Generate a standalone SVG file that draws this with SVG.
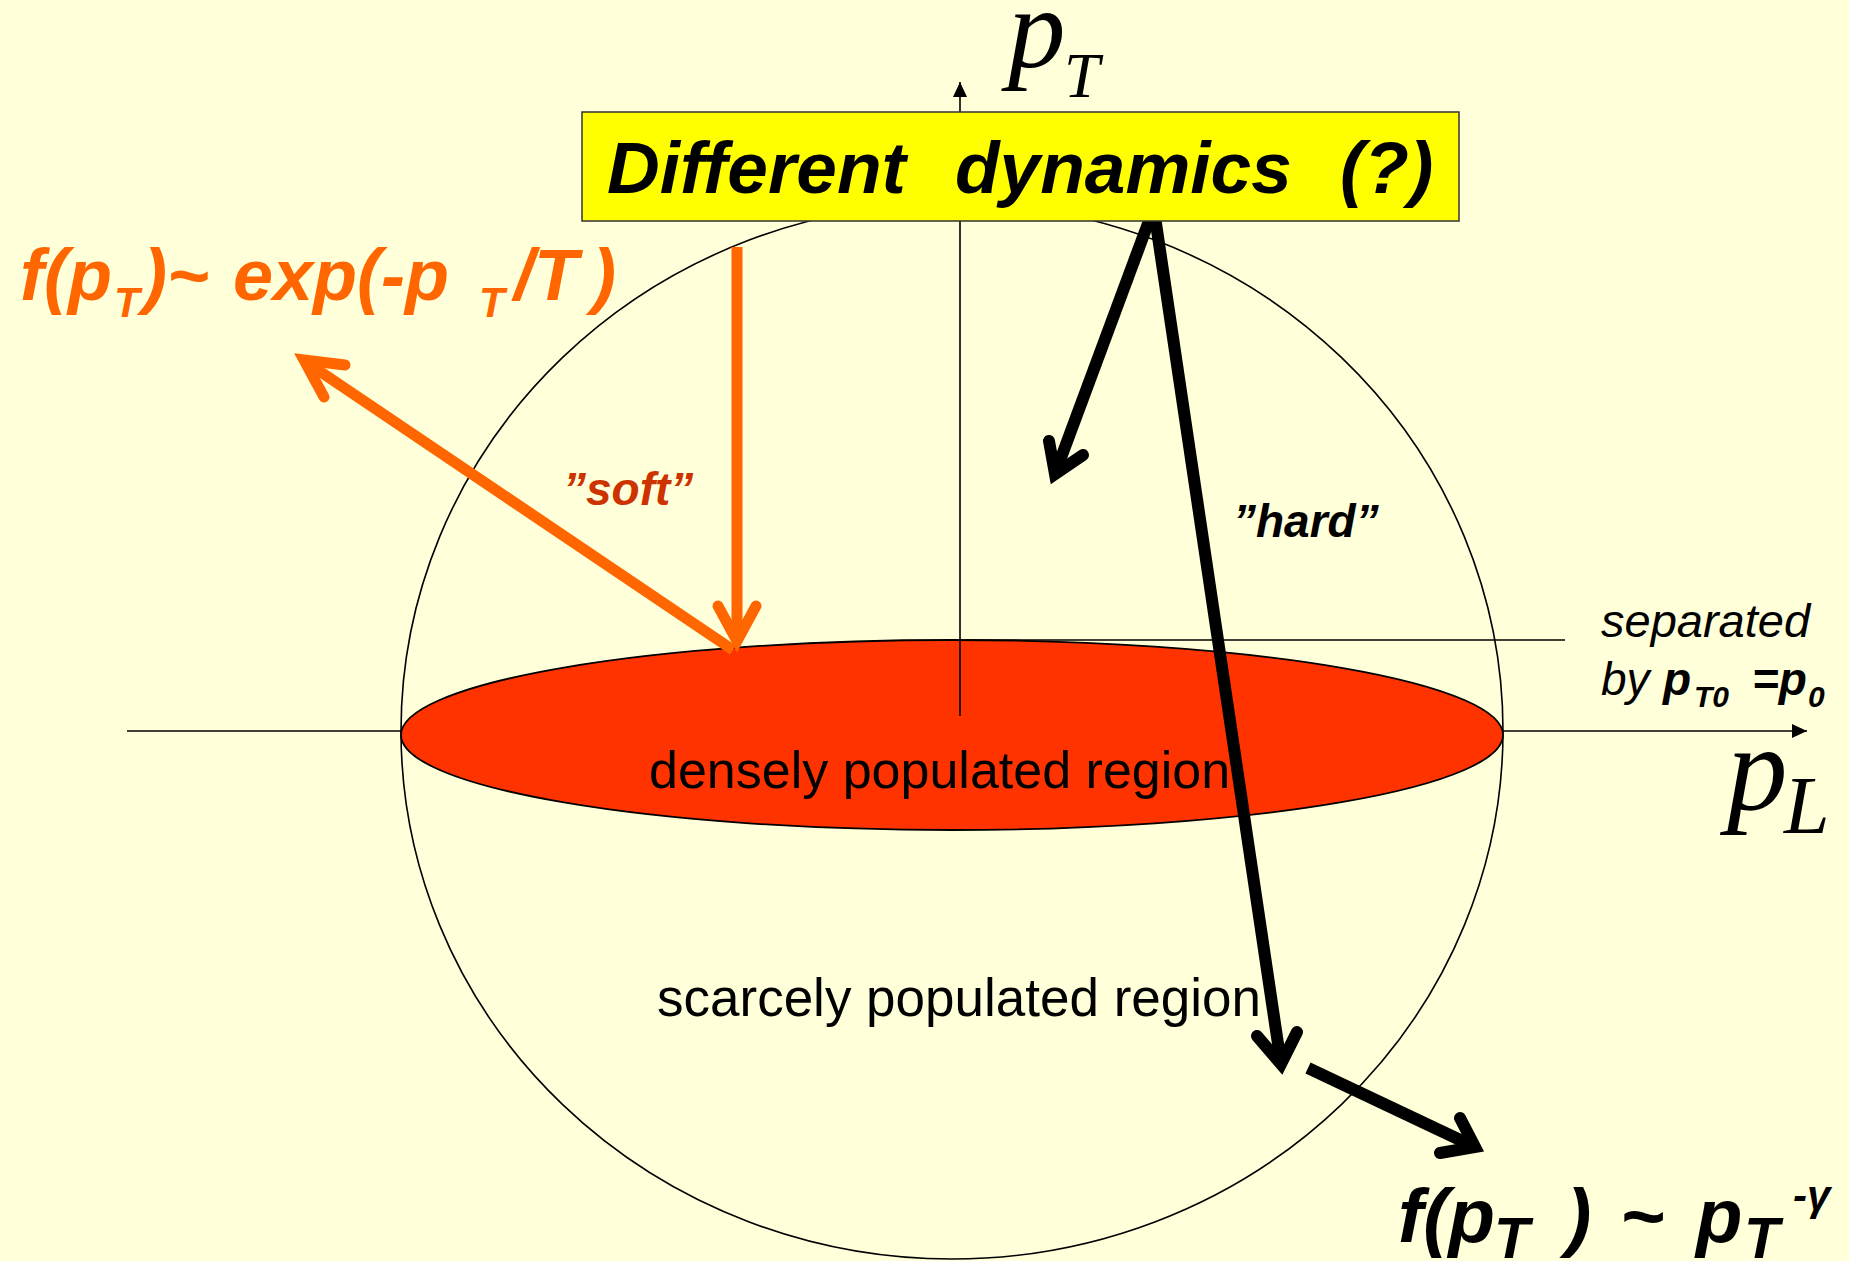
<svg xmlns="http://www.w3.org/2000/svg" width="1849" height="1261" viewBox="0 0 1849 1261">
<defs>
<style>
.bg{fill:#FFFFD9}
.thin{fill:none;stroke:#000;stroke-width:1.6}
.sans{font-family:"Liberation Sans",Arial,sans-serif}
.bi{font-weight:bold;font-style:italic}
.it{font-style:italic}
.ser{font-family:"Liberation Serif","Times New Roman",serif;font-style:italic;fill:#000}
.orange{stroke:#FF6600;stroke-width:11;fill:none}
.black{stroke:#000;stroke-width:12;fill:none}
.shaft{stroke-linecap:butt}
.head{stroke-linecap:round;stroke-linejoin:miter;stroke-miterlimit:10}
</style>
<marker id="axisHead" markerUnits="userSpaceOnUse" markerWidth="16" markerHeight="14" refX="15" refY="7" orient="auto">
<path d="M0,0 L15,7 L0,14 z" fill="#000"/>
</marker>
</defs>
<rect class="bg" x="0" y="0" width="1849" height="1261"/>

<g id="sphere">
<ellipse class="thin" cx="952" cy="731" rx="551" ry="528"/>
</g>

<g id="pL-axis">
<line class="thin" x1="127" y1="731" x2="1807" y2="731" marker-end="url(#axisHead)"/>
</g>

<g id="dense-region">
<ellipse cx="952" cy="735" rx="551" ry="95" fill="#FF3300" stroke="#000" stroke-width="1.8"/>
</g>

<g id="threshold">
<line class="thin" x1="966" y1="640" x2="1565" y2="640"/>
</g>

<g id="pT-axis">
<line class="thin" x1="960" y1="716" x2="960" y2="82" marker-end="url(#axisHead)"/>
</g>

<g id="region-labels">
<text class="sans" x="649" y="788" font-size="52">densely populated region</text>
<text class="sans" x="657" y="1016" font-size="53">scarcely populated region</text>
</g>

<g id="connectors">
<g id="soft-arrows">
<line class="orange shaft" x1="737" y1="247" x2="737" y2="640"/>
<polyline class="orange head" points="718,606 737,641 756,606"/>
<line class="orange shaft" x1="733" y1="650" x2="306" y2="362"/>
<polyline class="orange head" points="345,365 304,360 324,397"/>
</g>
<g id="hard-arrows">
<line class="black shaft" x1="1153" y1="210" x2="1055" y2="474"/>
<polyline class="black head" points="1049,441 1055,474 1083,455"/>
<line class="black shaft" x1="1154" y1="210" x2="1281" y2="1064"/>
<polyline class="black head" points="1257,1036 1281,1064 1297,1032"/>
<line class="black shaft" x1="1308" y1="1068" x2="1475" y2="1147"/>
<polyline class="black head" points="1460,1118 1475,1147 1440,1153"/>
</g>
</g>

<g id="dynamics-box">
<rect x="582" y="112" width="877" height="109" fill="#FFFF00" stroke="#333" stroke-width="1.5"/>
<text class="sans bi" font-size="73" fill="#000">
<tspan x="607" y="193">Different</tspan><tspan x="955" y="193">dynamics</tspan><tspan x="1340" y="193">(?)</tspan>
</text>
</g>

<g id="pT-label">
<text class="ser" x="1008" y="67" font-size="115">p</text>
<text class="ser" x="1064" y="97" font-size="64">T</text>
</g>

<g id="pL-label">
<text class="ser" x="1727" y="809" font-size="121">p</text>
<text class="ser" x="1784" y="833" font-size="82">L</text>
</g>

<g id="soft-formula">
<text class="sans bi" fill="#FF6600" font-size="72">
<tspan x="20" y="300">f(p</tspan><tspan x="114" y="317" font-size="42">T</tspan><tspan x="143" y="300">)~</tspan><tspan x="233" y="300">exp(-p</tspan><tspan x="479" y="317" font-size="42">T</tspan><tspan x="514" y="300">/T</tspan><tspan x="592" y="300">)</tspan>
</text>
<text class="sans bi" x="563" y="505" font-size="46" fill="#CC3300">”soft”</text>
</g>

<g id="hard-formula">
<text class="sans bi" x="1233" y="537" font-size="46" fill="#000">”hard”</text>
<text class="sans bi" fill="#000" font-size="76">
<tspan x="1398" y="1242">f(p</tspan><tspan x="1494" y="1258" font-size="58">T</tspan><tspan x="1566" y="1242">)</tspan><tspan x="1620" y="1242">~</tspan><tspan x="1696" y="1242">p</tspan><tspan x="1744" y="1258" font-size="58">T</tspan><tspan x="1793" y="1210" font-size="42">-γ</tspan>
</text>
</g>

<g id="separation-note">
<text class="sans it" x="1601" y="637" font-size="47" fill="#000">separated</text>
<text class="sans" font-size="46" fill="#000">
<tspan class="it" x="1601" y="695">by</tspan><tspan class="bi" x="1663" y="695">p</tspan><tspan class="bi" x="1694" y="707" font-size="30">T0</tspan><tspan class="bi" x="1752" y="695">=p</tspan><tspan class="bi" x="1808" y="707" font-size="30">0</tspan>
</text>
</g>
</svg>
